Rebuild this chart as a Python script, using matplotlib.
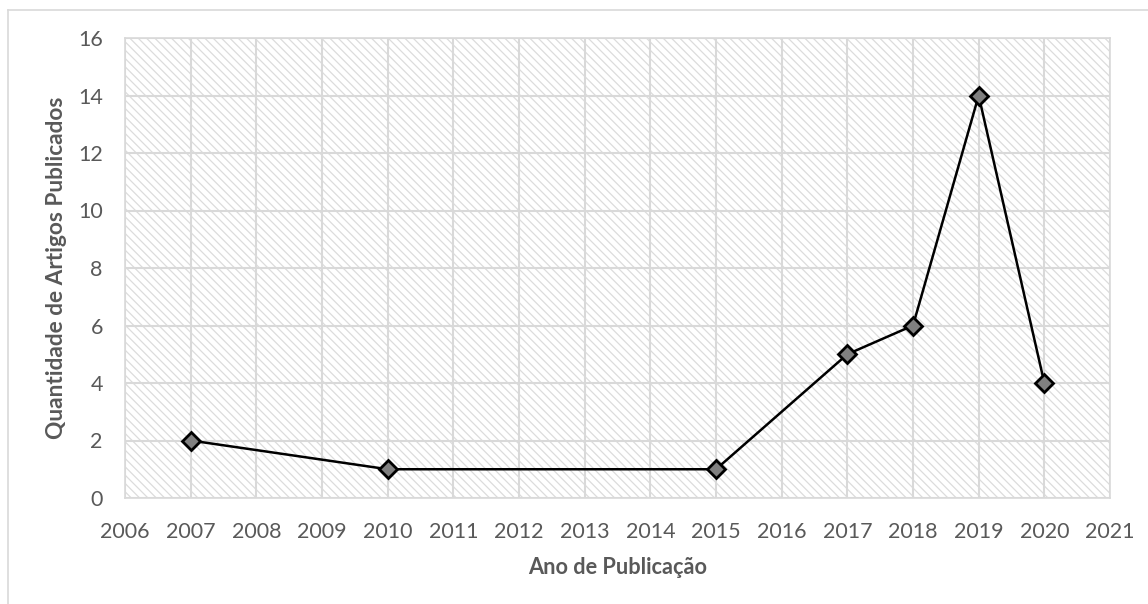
import numpy as np
import matplotlib
matplotlib.use("Agg")
import matplotlib.pyplot as plt
from matplotlib.lines import Line2D

# dados
anos = [2007, 2010, 2015, 2017, 2018, 2019, 2020]
artigos = [2, 1, 1, 5, 6, 14, 4]
xticks = list(range(2006, 2022))
yticks = list(range(0, 17, 2))

plt.rcParams['font.family'] = ['Lato', 'DejaVu Sans']
plt.rcParams['hatch.linewidth'] = 0.9
plt.rcParams['hatch.color'] = '#dcdcdc'
txt = '#595959'

fig = plt.figure(figsize=(11.48, 6.04), dpi=100)
ax = fig.add_axes([125/1148, 1-498/604, 985/1148, 460/604])

# moldura do gráfico
fig.add_artist(Line2D([8/1148, 8/1148], [0, 1-10/604], transform=fig.transFigure, color='#d9d9d9', lw=1.2))
fig.add_artist(Line2D([8/1148, 1], [1-10/604, 1-10/604], transform=fig.transFigure, color='#d9d9d9', lw=1.2))

ax.set_xlim(2006, 2021)
ax.set_ylim(0, 16)
ax.patch.set_facecolor('white')
ax.patch.set_hatch('\\\\\\\\')
ax.patch.set_edgecolor('#dcdcdc')

ax.set_xticks(xticks)
ax.set_yticks(yticks)
ax.grid(True, color='#d9d9d9', lw=1.5)
ax.set_axisbelow(True)
for s in ax.spines.values():
    s.set_color('#d9d9d9')
    s.set_linewidth(1.2)
ax.tick_params(length=0, labelsize=15.5, colors=txt)
ax.tick_params(axis='x', pad=17)
ax.tick_params(axis='y', pad=16)

ax.plot(anos, artigos, color='black', lw=1.8, marker='D', markersize=9,
        markerfacecolor='#808080', markeredgecolor='black', markeredgewidth=2, zorder=3)

ax.set_xlabel('Ano de Publicação', fontsize=15.7, fontweight='bold', color=txt, labelpad=11)
ax.set_ylabel('Quantidade de Artigos Publicados', fontsize=16.3, fontweight='bold', color=txt, labelpad=8)

fig.savefig('out.png', dpi=100)
